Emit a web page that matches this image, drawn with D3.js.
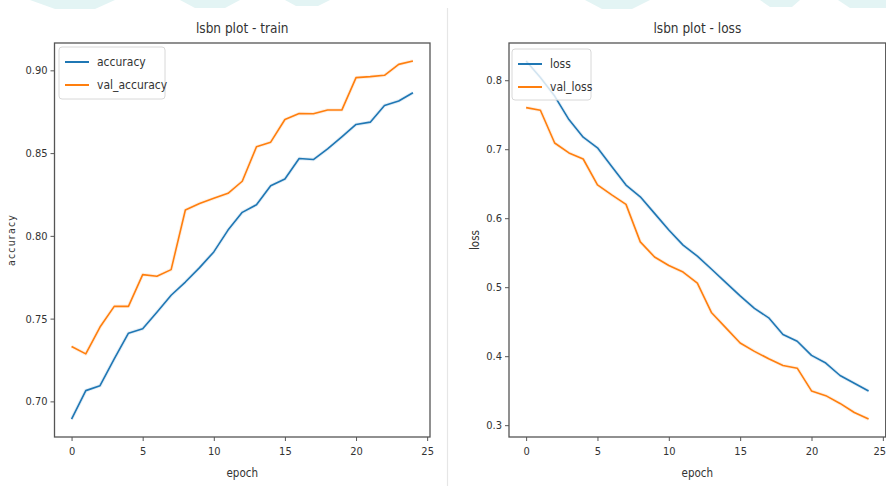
<!DOCTYPE html>
<html><head><meta charset="utf-8">
<script src="https://cdn.jsdelivr.net/npm/d3@7"></script>
<style>
body{margin:0;background:#fff}
svg{display:block}
text{font-family:"Liberation Sans Narrow","DejaVu Sans Condensed",Roboto,sans-serif;fill:#333}
</style>
</head><body>
<svg id="c" width="886" height="486"></svg>
<script>
// ---- data ----
const epochs = [0,1,2,3,4,5,6,7,8,9,10,11,12,13,14,15,16,17,18,19,20,21,22,23,24];
const accuracy = [0.6893,0.7065,0.7095,0.7257,0.7412,0.7439,0.7539,0.7641,0.7721,0.7808,0.7903,0.8035,0.8142,0.8188,0.8303,0.8344,0.8467,0.8461,0.8525,0.8598,0.8673,0.8687,0.8788,0.8815,0.8865];
const valAccuracy = [0.7332,0.7287,0.7449,0.7574,0.7574,0.7766,0.7756,0.7796,0.8156,0.8196,0.8227,0.8257,0.8330,0.8538,0.8566,0.8703,0.8739,0.8738,0.8760,0.8760,0.8956,0.8962,0.8970,0.9036,0.9057];
const loss = [0.828,0.804,0.777,0.743,0.7175,0.702,0.675,0.648,0.631,0.607,0.583,0.561,0.545,0.526,0.5067,0.4873,0.4693,0.4556,0.4314,0.4216,0.4012,0.390,0.372,0.3607,0.3496];
const valLoss = [0.7603,0.7564,0.709,0.6946,0.6858,0.6483,0.6337,0.620,0.5657,0.5438,0.5315,0.5219,0.5058,0.4629,0.441,0.4191,0.407,0.3963,0.3866,0.3826,0.3496,0.3428,0.3315,0.3184,0.3088];
const accTicks = [0.70,0.75,0.80,0.85,0.90];
const lossTicks = [0.3,0.4,0.5,0.6,0.7,0.8];
const epochTicks = [0,5,10,15,20,25];
const titles = ["lsbn plot - train","lsbn plot - loss"];
const yLabels = ["accuracy","loss"];
const accNames = ["accuracy","val_accuracy"];
const lossNames = ["loss","val_loss"];

const BLUE = "#1f77b4", ORANGE = "#ff7f0e";
const svg = d3.select("#c");

// faint watermark shapes at top edge and page separator
const wm = svg.append("g").attr("fill","#e3f4f4");
[[30,0,115,0,95,9,55,9],[180,0,240,0,225,8,195,8],[285,0,330,0,318,6,296,6],
 [585,0,650,0,632,9,602,9],[760,0,800,0,792,7,770,7],[838,0,886,0,886,8,850,8]]
 .forEach(p=>wm.append("polygon").attr("points",d3.range(0,p.length,2).map(i=>p[i]+","+p[i+1]).join(" ")));
svg.append("line").attr("x1",447.5).attr("x2",447.5).attr("y1",8).attr("y2",486)
  .attr("stroke","#e6e6e6").attr("stroke-width",1.2);

function panel(cfg){
  const {x0,x1,y0,y1} = cfg;
  const all = cfg.series.flatMap(s=>s.values);
  const lo = d3.min(all), hi = d3.max(all), pad = (hi-lo)*0.05;
  const x = d3.scaleLinear().domain([-1.2,25.2]).range([x0,x1]);
  const y = d3.scaleLinear().domain([lo-pad,hi+pad]).range([y1,y0]);
  const g = svg.append("g");
  const cid = "clip"+cfg.id;
  g.append("clipPath").attr("id",cid).append("rect")
    .attr("x",x0).attr("y",y0).attr("width",x1-x0).attr("height",y1-y0);
  const line = d3.line().x((d,i)=>x(epochs[i])).y(d=>y(d));
  cfg.series.forEach(s=>{
    g.append("path").attr("clip-path",`url(#${cid})`).attr("d",line(s.values))
      .attr("fill","none").attr("stroke",s.color).attr("stroke-width",3.5)
      .attr("stroke-opacity",0.12).attr("stroke-linejoin","round");
    g.append("path").attr("clip-path",`url(#${cid})`).attr("d",line(s.values))
      .attr("fill","none").attr("stroke",s.color).attr("stroke-width",1.6)
      .attr("stroke-linejoin","round");
  });
  // axes
  const ax = g.append("g").attr("transform",`translate(0,${y1})`)
    .call(d3.axisBottom(x).tickValues(epochTicks).tickSize(4).tickPadding(6).tickFormat(d3.format("d")));
  const ay = g.append("g").attr("transform",`translate(${x0},0)`)
    .call(d3.axisLeft(y).tickValues(cfg.yTicks).tickSize(4).tickPadding(3).tickFormat(d3.format(cfg.fmt)));
  [ax,ay].forEach(a=>{
    a.select(".domain").remove();
    a.selectAll(".tick line").attr("stroke","#444").attr("stroke-width",0.9);
    a.selectAll(".tick text").attr("font-size",11).attr("fill","#333")
      .attr("font-family",'"Liberation Sans Narrow","DejaVu Sans Condensed",sans-serif');
  });
  // keep a label at the page edge inside the page
  ax.selectAll(".tick text").filter(function(){
    const b = this.getBBox(); return x(+this.textContent) + b.width/2 > 886;
  }).attr("text-anchor","end").attr("x",d=>885.5 - x(d));
  // frame
  g.append("rect").attr("x",x0).attr("y",y0).attr("width",x1-x0).attr("height",y1-y0)
    .attr("fill","none").attr("stroke","#555").attr("stroke-width",1.3);
  // title and labels
  g.append("text").attr("x",(x0+x1)/2).attr("y",33).attr("text-anchor","middle")
    .attr("font-size",13.5).text(cfg.title);
  g.append("text").attr("x",(x0+x1)/2).attr("y",477).attr("text-anchor","middle")
    .attr("font-size",11.5).text("epoch");
  g.append("text").attr("transform",`translate(${cfg.ylx},${(y0+y1)/2}) rotate(-90)`)
    .attr("text-anchor","middle").attr("font-size",cfg.ylSize)
    .attr("letter-spacing",cfg.ylSpacing).attr("font-family",cfg.ylFont).text(cfg.ylabel);
  // legend
  const L = cfg.legend;
  const lg = g.append("g");
  lg.append("rect").attr("x",L.x).attr("y",L.y).attr("width",L.w).attr("height",L.h)
    .attr("rx",3).attr("fill","#fff").attr("fill-opacity",0.8).attr("stroke","#d8d8d8");
  cfg.series.forEach((s,i)=>{
    const yy = L.y + 15 + i*23;
    lg.append("line").attr("x1",L.x+6).attr("x2",L.x+30).attr("y1",yy).attr("y2",yy)
      .attr("stroke",s.color).attr("stroke-width",2);
    lg.append("text").attr("x",L.x+38).attr("y",yy+4).attr("font-size",12).text(s.name);
  });
}

panel({id:"a",x0:54.5,x1:430,y0:43,y1:437,title:titles[0],ylabel:yLabels[0],
  series:[{name:accNames[0],values:accuracy,color:BLUE},{name:accNames[1],values:valAccuracy,color:ORANGE}],
  yTicks:accTicks,fmt:".2f",ylx:15,ylSize:10.5,ylSpacing:1.2,ylFont:'"DejaVu Sans",sans-serif',
  legend:{x:59,y:47,w:106,h:52}});
panel({id:"b",x0:509,x1:885.7,y0:43,y1:437,title:titles[1],ylabel:yLabels[1],
  series:[{name:lossNames[0],values:loss,color:BLUE},{name:lossNames[1],values:valLoss,color:ORANGE}],
  yTicks:lossTicks,fmt:".1f",ylx:479,ylSize:11.5,ylSpacing:0,ylFont:'"Liberation Sans Narrow",sans-serif',
  legend:{x:512,y:49,w:79,h:51}});
</script>
</body></html>
